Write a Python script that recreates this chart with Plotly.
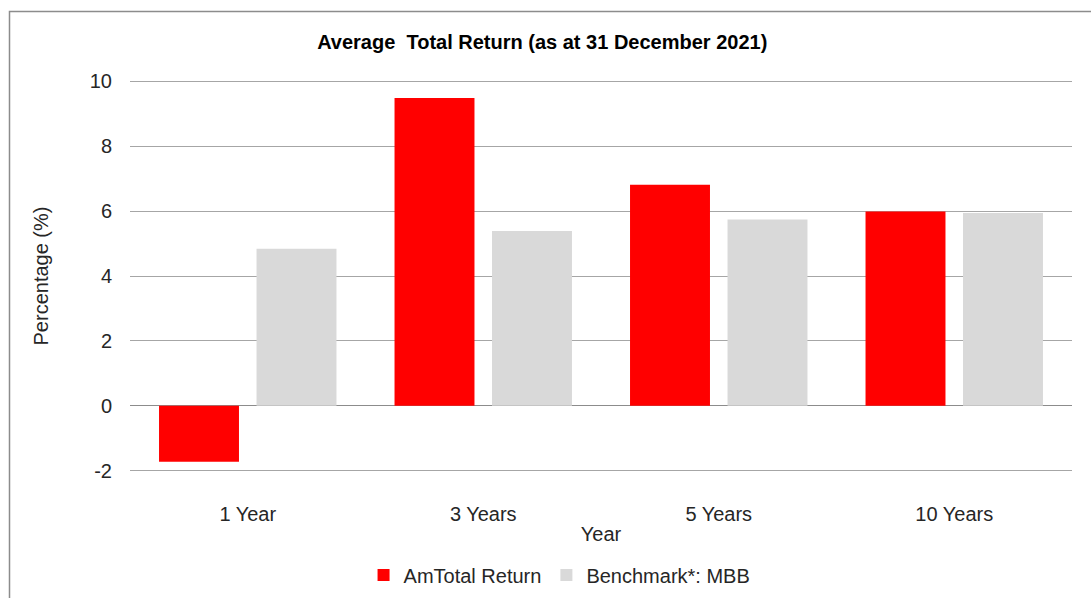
import plotly.graph_objects as go

categories = ["1 Year", "3 Years", "5 Years", "10 Years"]
amtotal_return = [-1.72, 9.48, 6.81, 5.99]
benchmark_mbb = [4.84, 5.39, 5.74, 5.94]
series_names = ["AmTotal Return", "Benchmark*: MBB"]
y_ticks = [-2, 0, 2, 4, 6, 8, 10]
y_tick_text = ["-2", "0", "2", "4", "6", "8", "10"]

FONT = "Arial, Liberation Sans, sans-serif"
W, H = 1091, 598
L, R, T, B = 130, 19, 78, 124
pw, ph = W - L - R, H - T - B

fig = go.Figure()
fig.add_trace(go.Bar(x=categories, y=amtotal_return, name=series_names[0],
                     marker=dict(color="#ff0000", line=dict(width=0))))
fig.add_trace(go.Bar(x=categories, y=benchmark_mbb, name=series_names[1],
                     marker=dict(color="#d9d9d9", line=dict(width=0))))

def px_x(p):
    return (p - L) / pw

def px_y(p):
    return (H - B - p) / ph

TXT = "#262626"
fig.update_layout(
    width=W, height=H,
    margin=dict(l=L, r=R, t=T, b=B, autoexpand=False),
    paper_bgcolor="white", plot_bgcolor="white",
    barmode="group", bargap=0.172, bargroupgap=0.18,
    font=dict(family=FONT, size=20, color=TXT),
    title=dict(text="<b>Average  Total Return (as at 31 December 2021)</b>",
               x=0.497, xanchor="center", y=1 - 42 / H, yanchor="middle",
               font=dict(family=FONT, size=20, color="#000000")),
    xaxis=dict(showgrid=False, showline=False, zeroline=False, automargin=False,
               ticks="", ticklabelstandoff=26,
               tickfont=dict(size=20, color=TXT),
               title=dict(text="Year", standoff=2, font=dict(size=20, color=TXT))),
    yaxis=dict(range=[-2.1, 10.1], tickvals=y_ticks, ticktext=y_tick_text,
               showgrid=True, automargin=False,
               gridcolor="#a6a6a6", gridwidth=1,
               zeroline=True, zerolinecolor="#8c8c8c", zerolinewidth=1,
               showline=False, ticks="", ticklabelstandoff=17,
               tickfont=dict(size=20, color=TXT),
               title=dict(text="Percentage (%)", standoff=35,
                          font=dict(size=20, color=TXT))),
    legend=dict(orientation="h", x=0.456, xanchor="center",
                y=px_y(575), yanchor="middle",
                font=dict(size=20, color=TXT),
                itemwidth=30, tracegroupgap=0, traceorder="normal"),
    shapes=[dict(type="rect", xref="paper", yref="paper",
                 x0=px_x(9.5), x1=px_x(1100), y0=px_y(610), y1=px_y(11.5),
                 line=dict(color="#8c8c8c", width=1.5), fillcolor="rgba(0,0,0,0)",
                 layer="below")],
)

fig.write_html("out.html")
